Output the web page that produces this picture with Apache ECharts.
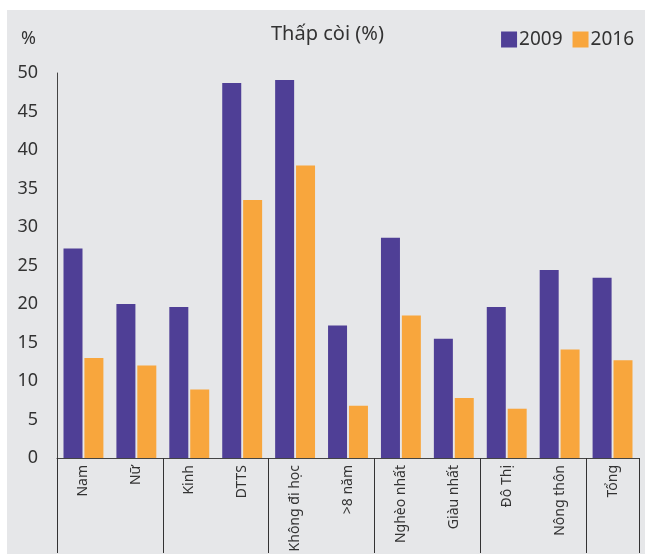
<!DOCTYPE html>
<html>
<head>
<meta charset="utf-8">
<script src="https://cdn.jsdelivr.net/npm/echarts@6/dist/echarts.min.js"></script>
<style>
  html, body { margin: 0; padding: 0; background: #fff; }
  #bg { position: absolute; left: 7px; top: 10px; width: 638px; height: 544px; background: #e6e7e9; }
  #chart { position: absolute; left: 0; top: 0; width: 645px; height: 557px; }
</style>
</head>
<body>
<div id="bg"></div>
<div id="chart"></div>
<script>
  // nhóm chỉ tiêu
  const categories = ['Nam', 'Nữ', 'Kinh', 'DTTS', 'Không đi học', '>8 năm',
    'Nghèo nhất', 'Giàu nhất', 'Đô Thị', 'Nông thôn', 'Tổng'];
  const seriesNames = ['2009', '2016'];
  const values2009 = [27.2, 20.0, 19.6, 48.7, 49.1, 17.2, 28.6, 15.5, 19.6, 24.4, 23.4];
  const values2016 = [13.0, 12.0, 8.9, 33.5, 38.0, 6.8, 18.5, 7.8, 6.4, 14.1, 12.7];
  const yTicks = { min: 0, max: 50, step: 5 };

  const font = '"Noto Sans", "DejaVu Sans", sans-serif';
  let chart = echarts.init(document.getElementById('chart'));

  let option = {
    animation: false,
    textStyle: { fontFamily: font },
    title: [
      {
        text: 'Thấp còi (%)',
        left: 266,
        top: 19,
        textStyle: { fontFamily: font, fontSize: 20, fontWeight: 'normal', color: '#333' }
      },
      {
        text: '%',
        left: 16,
        top: 25,
        textStyle: { fontFamily: font, fontSize: 18, fontWeight: 'normal', color: '#333' }
      }
    ],
    legend: {
      data: seriesNames,
      right: 6,
      top: 25,
      icon: 'rect',
      itemWidth: 16,
      itemHeight: 16,
      itemGap: 10,
      textStyle: { fontFamily: font, fontSize: 19, color: '#333', padding: [0, 0, 0, -3] }
    },
    grid: { left: 57, right: 6, top: 73, bottom: 99 },
    xAxis: {
      type: 'category',
      data: categories,
      axisLine: { lineStyle: { color: '#444', width: 1 } },
      axisTick: {
        show: true,
        length: 95,
        interval: function (i) { return i % 2 === 0; },
        lineStyle: { color: '#333' }
      },
      axisLabel: {
        interval: 0,
        rotate: 90,
        margin: 7,
        fontSize: 14,
        color: '#333'
      }
    },
    yAxis: {
      type: 'value',
      min: yTicks.min,
      max: yTicks.max,
      interval: yTicks.step,
      axisLine: { show: true, lineStyle: { color: '#444' } },
      axisTick: { show: false },
      splitLine: { show: false },
      axisLabel: { fontSize: 18, color: '#333', margin: 19 }
    },
    series: [
      {
        name: seriesNames[0],
        type: 'bar',
        data: values2009,
        barWidth: 19,
        barGap: '10%',
        itemStyle: { color: '#4f3f96' }
      },
      {
        name: seriesNames[1],
        type: 'bar',
        data: values2016,
        barWidth: 19,
        itemStyle: { color: '#f8a63d' }
      }
    ]
  };
  chart.setOption(option);
</script>
</body>
</html>
